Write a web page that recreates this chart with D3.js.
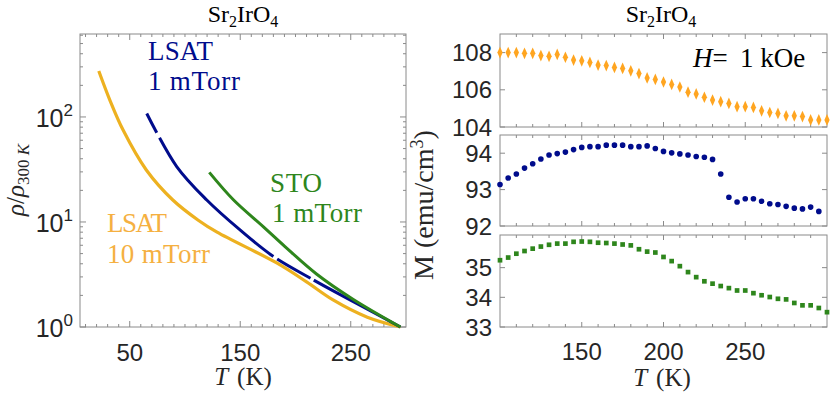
<!DOCTYPE html>
<html><head><meta charset="utf-8">
<script src="https://cdn.jsdelivr.net/npm/d3@7"></script>
<style>body{margin:0;background:#fff}svg{display:block}</style>
</head><body><svg id="c" width="830" height="395"></svg>
<script>
// ---------- data: left panel (rho / rho_300K vs T) ----------
const orangeT   = [22, 32, 44, 65, 89, 112, 129, 183, 210, 234, 265, 295];
const orangeRho = [274, 145, 75, 31.3, 16.2, 10.4, 8.0, 4.07, 2.69, 1.81, 1.24, 1.0];
const blueT   = [65.4, 92.5, 119.7, 149.8, 179.4, 216.2, 249.4, 295];
const blueRho = [108, 33.7, 16.2, 8.4, 4.74, 2.81, 1.81, 1.0];
const blueGapsT = [[74.5, 77], [180, 183.5], [213.5, 216.5]];   // small breaks in the trace
const greenT   = [122, 144, 171, 190, 219, 252, 295];
const greenRho = [29.7, 16.2, 9.0, 5.9, 3.2, 1.84, 1.0];
const leftXTicks = [50, 150, 250];
const leftYTicks = [1, 10, 100];

// ---------- data: right panels (M vs T) ----------
const mT = d3.range(100, 301, 5);
const mOrange = [108.0,108.0,108.0,107.96,107.96,107.84,107.8,107.9,107.75,107.6,107.56,107.47,107.33,107.3,107.2,107.15,107.02,106.87,106.64,106.56,106.42,106.29,106.15,105.87,105.78,105.6,105.45,105.36,105.27,105.09,105.09,105.05,104.87,104.78,104.73,104.6,104.6,104.56,104.38,104.38,104.38];
const mBlue = [93.14,93.32,93.43,93.59,93.71,93.84,93.95,93.99,94.03,94.1,94.16,94.18,94.18,94.22,94.22,94.22,94.18,94.18,94.2,94.13,94.05,94.01,93.98,93.95,93.91,93.89,93.83,93.43,92.79,92.66,92.75,92.75,92.68,92.61,92.59,92.54,92.49,92.47,92.52,92.4];
const mGreen = [35.25,35.34,35.47,35.56,35.64,35.71,35.77,35.81,35.81,35.87,35.88,35.87,35.84,35.83,35.81,35.78,35.75,35.62,35.54,35.51,35.36,35.22,35.05,34.85,34.68,34.54,34.46,34.38,34.31,34.23,34.23,34.14,34.07,34.01,33.95,33.93,33.81,33.73,33.73,33.64,33.5];
const rightXTicks = [150, 200, 250];
const topYTicks = [104, 106, 108];
const midYTicks = [92, 93, 94];
const botYTicks = [33, 34, 35];

// ---------- styles ----------
const C_OR = "#EDB120", C_OR_TXT = "#F5B041", C_OR_M = "#FFA520";
const C_BL = "#000C8C", C_GR = "#2E861C";
const AX = "#8a8a8a", TXT = "#262626";
const SANS = "'Liberation Sans', Arial, sans-serif";
const SERIF = "'Liberation Serif', 'Times New Roman', serif";

const svg = d3.select("#c");

// ================= LEFT PANEL =================
const L = {x0: 80, x1: 406, y0: 34, y1: 327};
const xL = d3.scaleLinear([5, 300], [L.x0, L.x1]);
const yL = d3.scaleLog([1, Math.pow(10, 2.79)], [L.y1, L.y0]);

const gL = svg.append("g");
gL.append("rect").attr("x", L.x0).attr("y", L.y0).attr("width", L.x1 - L.x0).attr("height", L.y1 - L.y0)
  .attr("fill", "none").attr("stroke", AX).attr("stroke-width", 1);

d3.range(10, 300, 10).forEach(t => {
  const major = leftXTicks.includes(t);
  const len = major ? 6 : 3;
  const x = xL(t);
  gL.append("line").attr("x1", x).attr("x2", x).attr("y1", L.y1).attr("y2", L.y1 - len).attr("stroke", AX);
  gL.append("line").attr("x1", x).attr("x2", x).attr("y1", L.y0).attr("y2", L.y0 + len).attr("stroke", AX);
});
leftXTicks.forEach(t => {
  gL.append("text").attr("x", xL(t)).attr("y", 361).attr("text-anchor", "middle")
    .attr("font-family", SANS).attr("font-size", 24).attr("fill", TXT).text(t);
});
[1, 10, 100].forEach(dec => {
  for (let k = 1; k <= 9; k++) {
    const v = dec * k;
    if (v > yL.domain()[1]) continue;
    const len = k === 1 ? 6 : 3;
    const y = yL(v);
    gL.append("line").attr("x1", L.x0).attr("x2", L.x0 + len).attr("y1", y).attr("y2", y).attr("stroke", AX);
    gL.append("line").attr("x1", L.x1).attr("x2", L.x1 - len).attr("y1", y).attr("y2", y).attr("stroke", AX);
  }
});
leftYTicks.forEach(v => {
  const t = gL.append("text").attr("x", 73).attr("y", yL(v) + 10).attr("text-anchor", "end")
    .attr("font-family", SANS).attr("font-size", 25).attr("fill", TXT);
  t.append("tspan").text("10");
  t.append("tspan").attr("font-size", 17).attr("dy", -11).text(Math.round(Math.log10(v)));
});

const lineL = d3.line().x(d => xL(d[0])).y(d => yL(d[1])).curve(d3.curveCatmullRom.alpha(0.5));
gL.append("path").datum(d3.zip(orangeT, orangeRho)).attr("d", lineL)
  .attr("fill", "none").attr("stroke", C_OR).attr("stroke-width", 3.2).attr("stroke-linejoin", "round");
const blueP = gL.append("path").datum(d3.zip(blueT, blueRho)).attr("d", lineL)
  .attr("fill", "none").attr("stroke", C_BL).attr("stroke-width", 3);
{
  const node = blueP.node(), total = node.getTotalLength();
  const lenAt = X => { let lo = 0, hi = total; for (let i = 0; i < 40; i++) { const m = (lo + hi) / 2; if (node.getPointAtLength(m).x < X) lo = m; else hi = m; } return lo; };
  const dash = []; let prev = 0;
  blueGapsT.forEach(([a, b]) => { const la = lenAt(xL(a)), lb = lenAt(xL(b)); dash.push(la - prev, lb - la); prev = lb; });
  dash.push(total - prev + 10, 0);
  blueP.attr("stroke-dasharray", dash.join(","));
}
gL.append("path").datum(d3.zip(greenT, greenRho)).attr("d", lineL)
  .attr("fill", "none").attr("stroke", C_GR).attr("stroke-width", 3);

function serifText(parent, x, y, w, size, col, parts, anchor) {
  const t = parent.append("text").attr("x", x).attr("y", y).attr("font-family", SERIF).attr("font-size", size)
    .attr("fill", col).attr("text-anchor", anchor || "start");
  if (w) t.attr("textLength", w).attr("lengthAdjust", "spacing");
  parts.forEach(p => {
    const s = t.append("tspan").text(p.t);
    if (p.it) s.attr("font-style", "italic");
    if (p.fs) s.attr("font-size", p.fs);
    if (p.dy) s.attr("dy", p.dy);
    if (p.dx) s.attr("dx", p.dx);
  });
  return t;
}
serifText(gL, 148, 60, 65, 27, C_BL, [{t: "LSAT"}]);
serifText(gL, 148, 90, 92, 27, C_BL, [{t: "1 mTorr"}]);
serifText(gL, 270, 192, 52, 27, C_GR, [{t: "STO"}]);
serifText(gL, 272, 222, 90, 27, C_GR, [{t: "1 mTorr"}]);
serifText(gL, 107, 232, 60, 27, C_OR_TXT, [{t: "LSAT"}]);
serifText(gL, 107, 263, 103, 27, C_OR_TXT, [{t: "10 mTorr"}]);

// titles
const titleParts = [{t: "Sr"}, {t: "2", fs: 16, dy: 5}, {t: "IrO", dy: -5}, {t: "4", fs: 16, dy: 5}];
serifText(svg, 243, 22, null, 24, "#000", titleParts, "middle");
serifText(svg, 661, 22, null, 24, "#000", titleParts, "middle");

// x labels
const xlabParts = [{t: "T", it: true}, {t: "(K)", dx: 9}];
serifText(svg, 243, 385, null, 25, TXT, xlabParts, "middle");
serifText(svg, 662, 386, null, 25, TXT, xlabParts, "middle");

// y label left
serifText(svg.append("g").attr("transform", "translate(24,180) rotate(-90)"), 0, 0, null, 25, TXT,
  [{t: "ρ", it: true}, {t: "/"}, {t: "ρ", it: true}, {t: "300 ", fs: 17, dy: 5}, {t: "K", fs: 17, it: true}], "middle");

// ================= RIGHT PANELS =================
const R = {x0: 500, x1: 827};
const xR = d3.scaleLinear([100, 300], [R.x0, R.x1]);
const panels = [
  {y0: 34, y1: 127, dom: [104, 109], ticks: topYTicks, data: mOrange, col: C_OR_M, shape: "diamond"},
  {y0: 135, y1: 226, dom: [92, 94.5], ticks: midYTicks, data: mBlue, col: C_BL, shape: "circle"},
  {y0: 235, y1: 327, dom: [33, 36.1], ticks: botYTicks, data: mGreen, col: C_GR, shape: "square"}
];
panels.forEach((p, pi) => {
  const y = d3.scaleLinear(p.dom, [p.y1, p.y0]);
  const g = svg.append("g");
  g.append("rect").attr("x", R.x0).attr("y", p.y0).attr("width", R.x1 - R.x0).attr("height", p.y1 - p.y0)
    .attr("fill", "none").attr("stroke", AX).attr("stroke-width", 1);
  d3.range(110, 300, 10).forEach(t => {
    const major = rightXTicks.includes(t);
    const len = major ? 5 : 3;
    const x = xR(t);
    g.append("line").attr("x1", x).attr("x2", x).attr("y1", p.y1).attr("y2", p.y1 - len).attr("stroke", AX);
    g.append("line").attr("x1", x).attr("x2", x).attr("y1", p.y0).attr("y2", p.y0 + len).attr("stroke", AX);
  });
  p.ticks.forEach(v => {
    const yy = y(v);
    g.append("line").attr("x1", R.x0).attr("x2", R.x0 + 5).attr("y1", yy).attr("y2", yy).attr("stroke", AX);
    g.append("line").attr("x1", R.x1).attr("x2", R.x1 - 5).attr("y1", yy).attr("y2", yy).attr("stroke", AX);
    g.append("text").attr("x", 492).attr("y", yy + 8.5).attr("text-anchor", "end")
      .attr("font-family", SANS).attr("font-size", 24).attr("fill", TXT).text(v);
  });
  const sym = p.shape === "diamond" ? d3.symbolDiamond : p.shape === "circle" ? d3.symbolCircle : d3.symbolSquare;
  const size = p.shape === "diamond" ? 30 : p.shape === "circle" ? 25 : 22;
  g.selectAll("path.m").data(p.data).join("path").attr("class", "m")
    .attr("transform", (d, i) => `translate(${xR(mT[i])},${y(d)})` + (p.shape === "diamond" ? " scale(0.9,1.15)" : ""))
    .attr("d", d3.symbol(sym, size)).attr("fill", p.col);
  if (pi === 2) {
    rightXTicks.forEach(t => {
      g.append("text").attr("x", xR(t)).attr("y", 360).attr("text-anchor", "middle")
        .attr("font-family", SANS).attr("font-size", 24).attr("fill", TXT).text(t);
    });
  }
});

serifText(svg, 693, 67, null, 27, "#000", [{t: "H", it: true}, {t: "="}]);
serifText(svg, 740, 67, null, 27, "#000", [{t: "1 kOe"}]);
serifText(svg.append("g").attr("transform", "translate(433,205) rotate(-90)"), 0, 0, null, 28, TXT,
  [{t: "M (emu/cm"}, {t: "3", fs: 18, dy: -10}, {t: ")", dy: 10}], "middle");
</script></body></html>
